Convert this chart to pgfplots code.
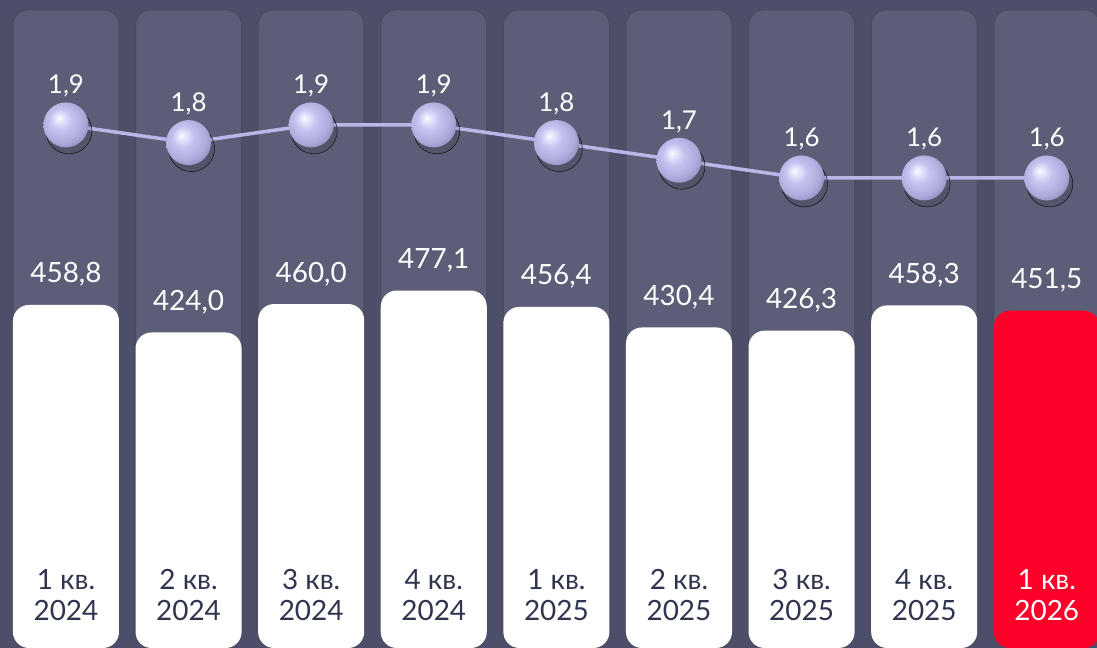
\documentclass[border=0pt]{standalone}
\usepackage{pgfplots}
\pgfplotsset{compat=1.18}
\usepackage{fontspec}
\setmainfont{Lato}
\definecolor{bgdark}{HTML}{4C4F67}
\definecolor{colbg}{HTML}{5C5E77}
\definecolor{coledge}{HTML}{4A4C63}
\definecolor{barred}{HTML}{FF0029}
\definecolor{txtdark}{HTML}{30344F}
\definecolor{linec}{HTML}{B8B7EA}
\definecolor{ballhi}{HTML}{ECECFF}
\definecolor{ballc}{HTML}{C4C3F0}
\definecolor{ballmid}{HTML}{ABAADA}
\definecolor{ballrim}{HTML}{8584B2}

% light sphere for the markers
\pgfdeclareradialshading{sphere}{\pgfpoint{-8bp}{8bp}}{color(0bp)=(white); color(3bp)=(ballhi); color(12bp)=(ballc); color(24bp)=(ballmid); color(33bp)=(ballrim); color(50bp)=(ballrim)}
\pgfdeclareplotmark{sphere}{%
  \pgfpathcircle{\pgfpointorigin}{\pgfplotmarksize}%
  \pgfshadepath{sphere}{0}%
  \pgfusepath{}}

\newcommand\qlab[4]{%
  \node[anchor=base, text=#4] at (axis cs:#1,99.6) {#2 кв.};
  \node[anchor=base, text=#4] at (axis cs:#1,60.4) {#3};}

\begin{document}
\begin{tikzpicture}
\fill[bgdark] (0,0) rectangle (1097bp,648bp);
\begin{axis}[
    at={(0,0)}, anchor=south west,
    width=1097bp, height=648bp, scale only axis,
    xmin=-0.538, xmax=8.41, ymin=25, ymax=844.5,
    hide axis,
    /pgf/number format/assume math mode=true,
    font=\fontsize{28}{30}\selectfont,
]
    % column backgrounds
    \addplot[ybar, bar shift=0pt, bar width=0.865, fill=colbg, draw=coledge, line width=1.2bp, rounded corners=15bp]
        coordinates {(0,832) (1,832) (2,832) (3,832) (4,832) (5,832) (6,832) (7,832) (8,832)};
    % bars
    \addplot[ybar, bar shift=0pt, bar width=0.865, fill=white, draw=none, rounded corners=16bp,
        point meta=y, nodes near coords={\pgfmathprintnumber[fixed,fixed zerofill,precision=1,use comma]{\pgfplotspointmeta}},
        every node near coord/.append style={text=white, anchor=base, yshift=22bp, rounded corners=0pt}]
        coordinates {(0,458.8) (1,424.0) (2,460.0) (3,477.1) (4,456.4) (5,430.4) (6,426.3) (7,458.3)};
    \addplot[ybar, bar shift=0pt, bar width=0.865, fill=barred, draw=none, rounded corners=16bp,
        point meta=y, nodes near coords={\pgfmathprintnumber[fixed,fixed zerofill,precision=1,use comma]{\pgfplotspointmeta}},
        every node near coord/.append style={text=white, anchor=base, yshift=22bp, rounded corners=0pt}]
        coordinates {(8,451.5)};
    \qlab{0}{1}{2024}{txtdark}
    \qlab{1}{2}{2024}{txtdark}
    \qlab{2}{3}{2024}{txtdark}
    \qlab{3}{4}{2024}{txtdark}
    \qlab{4}{1}{2025}{txtdark}
    \qlab{5}{2}{2025}{txtdark}
    \qlab{6}{3}{2025}{txtdark}
    \qlab{7}{4}{2025}{txtdark}
    \qlab{8}{1}{2026}{white}
\end{axis}
\begin{axis}[
    at={(0,0)}, anchor=south west,
    width=1097bp, height=648bp, scale only axis,
    xmin=-0.538, xmax=8.41, ymin=-1.06, ymax=2.607,
    hide axis,
    /pgf/number format/assume math mode=true,
    font=\fontsize{26}{28}\selectfont,
]
    % shadow of the spheres
    \addplot[only marks, mark=*, mark size=23bp, mark options={fill=black, draw=none, fill opacity=0.1, xshift=3bp, yshift=-6bp}]
        coordinates {(0,1.9) (1,1.8) (2,1.9) (3,1.9) (4,1.8) (5,1.7) (6,1.6) (7,1.6) (8,1.6)};
    \addplot[linec, line width=3.5bp, mark=sphere, mark size=22.5bp, mark options={draw=none},
        point meta=y, nodes near coords={\pgfmathprintnumber[fixed,precision=1,use comma]{\pgfplotspointmeta}},
        every node near coord/.append style={text=white, anchor=base, yshift=31bp}]
        coordinates {(0,1.9) (1,1.8) (2,1.9) (3,1.9) (4,1.8) (5,1.7) (6,1.6) (7,1.6) (8,1.6)};
\end{axis}
\pgfresetboundingbox
\useasboundingbox (0,0) rectangle (1097bp,648bp);
\end{tikzpicture}
\end{document}
